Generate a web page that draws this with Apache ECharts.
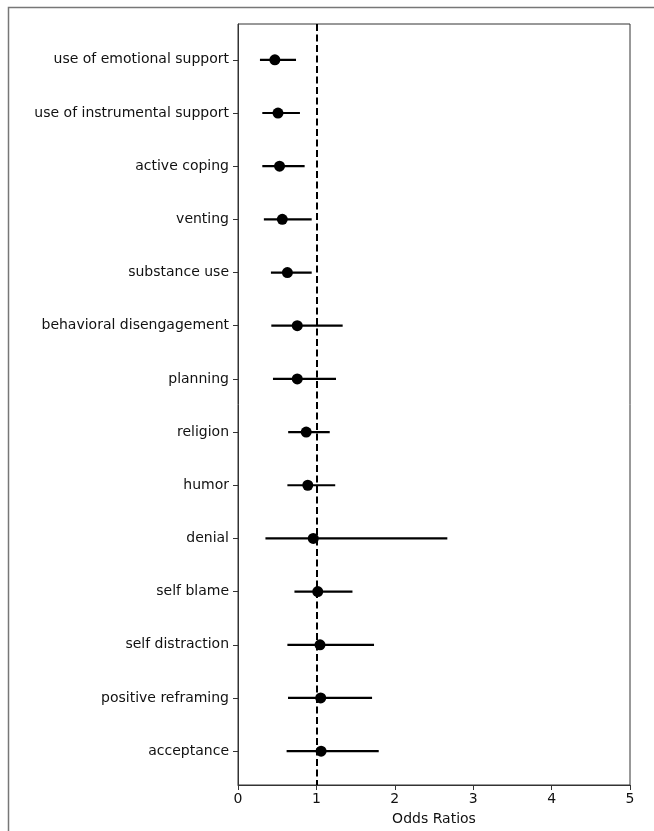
<!DOCTYPE html>
<html>
<head>
<meta charset="utf-8">
<script src="https://cdn.jsdelivr.net/npm/echarts@6/dist/echarts.min.js"></script>
<style>
html,body{margin:0;padding:0;background:#fff;}
#chart{width:654px;height:831px;}
</style>
</head>
<body>
<div id="chart"></div>
<script>
var categories = ['use of emotional support','use of instrumental support','active coping','venting','substance use','behavioral disengagement','planning','religion','humor','denial','self blame','self distraction','positive reframing','acceptance'];
var oddsRatios = [0.47, 0.51, 0.53, 0.565, 0.63, 0.756, 0.756, 0.87, 0.89, 0.96, 1.017, 1.046, 1.055, 1.06];
var ciLow = [0.28, 0.31, 0.31, 0.33, 0.42, 0.425, 0.446, 0.64, 0.63, 0.35, 0.72, 0.63, 0.638, 0.62];
var ciHigh = [0.74, 0.79, 0.85, 0.94, 0.94, 1.335, 1.25, 1.17, 1.24, 2.67, 1.46, 1.735, 1.71, 1.795];
var xTicks = [0, 1, 2, 3, 4, 5];
var refValue = 1;

var idx = categories.map(function (c, i) { return i; });
var pointData = oddsRatios.map(function (v, i) { return [v, i]; });
var errData = ciLow.map(function (v, i) { return [v, ciHigh[i], i]; });

var chart = echarts.init(document.getElementById('chart'), null, {renderer: 'canvas'});
var font = 'DejaVu Sans';
chart.setOption({
  animation: false,
  backgroundColor: '#fff',
  graphic: [{
    type: 'rect', left: 6, top: 5, silent: true,
    shape: {x: 0, y: 0, width: 700, height: 900},
    style: {fill: 'none', stroke: '#777', lineWidth: 1.5}
  }],
  grid: {left: 238, right: 24, top: 24, bottom: 43, show: true, borderColor: '#333', borderWidth: 1, backgroundColor: 'transparent'},
  xAxis: {
    type: 'value', min: xTicks[0], max: xTicks[xTicks.length - 1], interval: 1,
    name: 'Odds Ratios', nameLocation: 'middle', nameGap: 27,
    nameTextStyle: {fontFamily: font, fontSize: 14, color: '#111'},
    axisLine: {show: true, onZero: false, lineStyle: {color: '#333', width: 1}},
    axisTick: {show: true, length: 5, lineStyle: {color: '#333'}},
    axisLabel: {fontFamily: font, fontSize: 14, color: '#111', margin: 7},
    splitLine: {show: false}
  },
  yAxis: {
    type: 'value', inverse: true, min: -0.674, max: 13.637,
    axisLine: {show: true, onZero: false, lineStyle: {color: '#333', width: 1}},
    axisTick: {show: true, length: 5, lineStyle: {color: '#333'}, customValues: idx},
    axisLabel: {fontFamily: font, fontSize: 14, color: '#111', margin: 9, customValues: idx,
      formatter: function (v) { return categories[Math.round(v)] || ''; }},
    splitLine: {show: false}
  },
  series: [
    {
      type: 'custom', z: 2,
      data: errData,
      encode: {x: [0, 1], y: 2},
      renderItem: function (params, api) {
        var p1 = api.coord([api.value(0), api.value(2)]);
        var p2 = api.coord([api.value(1), api.value(2)]);
        return {type: 'line', shape: {x1: p1[0], y1: p1[1], x2: p2[0], y2: p2[1]},
          style: {stroke: '#000', lineWidth: 2.2}};
      }
    },
    {
      type: 'scatter', z: 3, data: pointData, symbol: 'circle', symbolSize: 11,
      itemStyle: {color: '#000', opacity: 1},
      markLine: {
        silent: true, symbol: ['none', 'none'], label: {show: false},
        lineStyle: {color: '#000', type: [7, 3.5], width: 2},
        data: [{xAxis: refValue}]
      }
    }
  ]
});
</script>
</body>
</html>
